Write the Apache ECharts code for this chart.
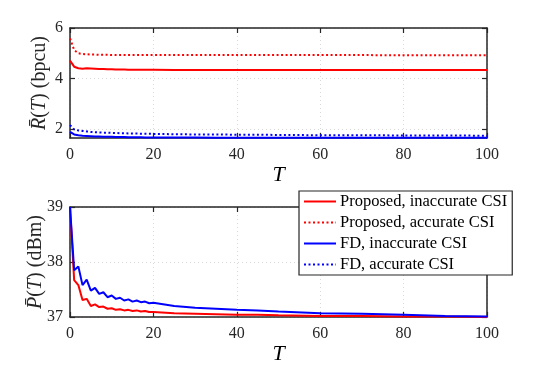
<!DOCTYPE html>
<html>
<head>
<meta charset="utf-8">
<script src="https://cdn.jsdelivr.net/npm/echarts@6/dist/echarts.min.js"></script>
<style>
  html, body { margin: 0; padding: 0; background: #fff; }
  #chart { width: 538px; height: 377px; }
</style>
</head>
<body>
<div id="chart"></div>
<script>
var chart = echarts.init(document.getElementById('chart'));

// T samples (dense where the curves move, sparse later)
var tVals = [0, 1, 2, 3, 4, 5, 6, 7, 8, 9, 10, 11, 12, 13, 14, 15, 16, 17, 18, 19, 20,
             25, 30, 35, 40, 45, 50, 60, 70, 80, 90, 100];

// average rate R(T), bpcu
var rPropInacc = [4.71, 4.47, 4.41, 4.39, 4.41, 4.40, 4.39, 4.38, 4.38, 4.37, 4.37, 4.36, 4.36, 4.36, 4.35, 4.35, 4.35, 4.35, 4.35, 4.35, 4.35,
                  4.34, 4.34, 4.34, 4.34, 4.34, 4.34, 4.34, 4.34, 4.34, 4.34, 4.34];
var rPropAcc = [5.59, 5.13, 5.00, 4.97, 4.96, 4.95, 4.95, 4.94, 4.94, 4.94, 4.93, 4.93, 4.93, 4.93, 4.93, 4.93, 4.93, 4.93, 4.93, 4.93, 4.93,
                4.93, 4.93, 4.93, 4.93, 4.93, 4.93, 4.93, 4.93, 4.92, 4.92, 4.92];
var rFdInacc = [1.89, 1.79, 1.76, 1.74, 1.73, 1.72, 1.71, 1.71, 1.70, 1.70, 1.70, 1.69, 1.69, 1.69, 1.68, 1.68, 1.68, 1.68, 1.67, 1.67, 1.67,
                1.67, 1.67, 1.66, 1.66, 1.66, 1.66, 1.66, 1.66, 1.66, 1.66, 1.66];
var rFdAcc = [2.16, 1.99, 1.95, 1.93, 1.91, 1.89, 1.88, 1.87, 1.86, 1.86, 1.85, 1.85, 1.84, 1.84, 1.83, 1.83, 1.83, 1.82, 1.82, 1.82, 1.81,
              1.80, 1.79, 1.79, 1.78, 1.78, 1.77, 1.76, 1.76, 1.75, 1.75, 1.74];

// average power P(T), dBm
var pPropInacc = [39.0, 37.67, 37.58, 37.31, 37.33, 37.20, 37.23, 37.18, 37.19, 37.15, 37.16, 37.13, 37.14, 37.12, 37.13, 37.11, 37.12, 37.10, 37.11, 37.09, 37.09,
                  37.07, 37.06, 37.05, 37.04, 37.04, 37.03, 37.02, 37.02, 37.01, 37.01, 37.00];
var pFdInacc = [39.0, 37.85, 37.92, 37.58, 37.68, 37.48, 37.53, 37.42, 37.45, 37.36, 37.39, 37.33, 37.35, 37.30, 37.32, 37.28, 37.30, 37.27, 37.28, 37.25, 37.26,
                37.20, 37.17, 37.15, 37.13, 37.12, 37.10, 37.07, 37.06, 37.04, 37.02, 37.01];

var names = ['Proposed, inaccurate CSI', 'Proposed, accurate CSI', 'FD, inaccurate CSI', 'FD, accurate CSI'];
var rTicks = [2, 4, 6];
var pTicks = [37, 38, 39];

var font = 'Liberation Serif';
var axisColor = '#262626';

function pairs(ys) {
    return tVals.map(function (t, i) { return [t, ys[i]]; });
}

function xAxisMain(idx) {
    return {
        type: 'value', gridIndex: idx, min: 0, max: 100, interval: 20,
        name: 'T', nameLocation: 'middle', nameGap: 26,
        nameTextStyle: { fontFamily: font, fontStyle: 'italic', fontSize: 22, color: '#000' },
        axisLine: { show: true, onZero: false, lineStyle: { color: axisColor, width: 1.5 } },
        axisTick: { show: true, inside: true, length: 5, lineStyle: { color: axisColor, width: 1.2 } },
        axisLabel: { fontFamily: font, fontSize: 16, color: '#262626', margin: 9 },
        splitLine: { show: true, lineStyle: { color: '#d9d9d9', type: [1, 3], width: 1 } }
    };
}
function xAxisTop(idx) {
    return {
        type: 'value', gridIndex: idx, position: 'top', min: 0, max: 100, interval: 20,
        axisLine: { show: true, onZero: false, lineStyle: { color: axisColor, width: 1.5 } },
        axisTick: { show: true, inside: true, length: 5, lineStyle: { color: axisColor, width: 1.2 } },
        axisLabel: { show: false },
        splitLine: { show: false }
    };
}
function yAxisMain(idx, min, max, ticks, name, gap) {
    return {
        type: 'value', gridIndex: idx, min: min, max: max,
        name: name, nameLocation: 'middle', nameGap: gap, nameRotate: 90,
        nameMoveOverlap: false,
        nameTextStyle: {
            fontFamily: font, fontSize: 20, color: '#262626',
            rich: { i: { fontFamily: font, fontSize: 20, fontStyle: 'italic', color: '#262626' } }
        },
        axisLine: { show: true, onZero: false, lineStyle: { color: axisColor, width: 1.5 } },
        axisTick: { show: true, inside: true, length: 5, customValues: ticks, lineStyle: { color: axisColor, width: 1.2 } },
        axisLabel: { fontFamily: font, fontSize: 16, color: '#262626', margin: 7, customValues: ticks },
        splitLine: { show: true, lineStyle: { color: '#d9d9d9', type: [1, 3], width: 1 } }
    };
}
function yAxisRight(idx, min, max, ticks) {
    return {
        type: 'value', gridIndex: idx, position: 'right', min: min, max: max,
        axisLine: { show: true, onZero: false, lineStyle: { color: axisColor, width: 1.5 } },
        axisTick: { show: true, inside: true, length: 5, customValues: ticks, lineStyle: { color: axisColor, width: 1.2 } },
        axisLabel: { show: false },
        splitLine: { show: false }
    };
}

function line(name, xi, yi, data, color, dotted) {
    return {
        name: name, type: 'line', xAxisIndex: xi, yAxisIndex: yi,
        data: pairs(data), showSymbol: false, symbol: 'none', animation: false,
        lineStyle: { color: color, width: 2, type: dotted ? [2, 2.5] : 'solid' },
        itemStyle: { color: color }
    };
}

var option = {
    backgroundColor: '#fff',
    animation: false,
    grid: [
        { left: 70, top: 28, width: 417, height: 110 },
        { left: 70, top: 207, width: 417, height: 110 }
    ],
    xAxis: [xAxisMain(0), xAxisTop(0), xAxisMain(1), xAxisTop(1)],
    yAxis: [
        yAxisMain(0, 1.65, 6, rTicks, '{i|R\u0304}({i|T}) (bpcu)', 20),
        yAxisRight(0, 1.65, 6, rTicks),
        yAxisMain(1, 37, 39, pTicks, '{i|P\u0304}({i|T}) (dBm)', 24),
        yAxisRight(1, 37, 39, pTicks)
    ],
    legend: {
        data: names,
        orient: 'vertical',
        left: 299, top: 191,
        padding: [2, 5, 2, 4],
        itemGap: 4,
        itemWidth: 32, itemHeight: 15,
        backgroundColor: '#fff',
        borderColor: '#262626', borderWidth: 1.2,
        itemStyle: { opacity: 0 },
        textStyle: { fontFamily: font, fontSize: 16.5, color: '#000', padding: [0, 0, 0, -1] },
        z: 10
    },
    series: [
        line(names[0], 0, 0, rPropInacc, '#ff0000', false),
        line(names[1], 0, 0, rPropAcc, '#ff0000', true),
        line(names[2], 0, 0, rFdInacc, '#0000ff', false),
        line(names[3], 0, 0, rFdAcc, '#0000ff', true),
        line(names[0], 2, 2, pPropInacc, '#ff0000', false),
        line(names[2], 2, 2, pFdInacc, '#0000ff', false)
    ]
};

chart.setOption(option);
</script>
</body>
</html>
